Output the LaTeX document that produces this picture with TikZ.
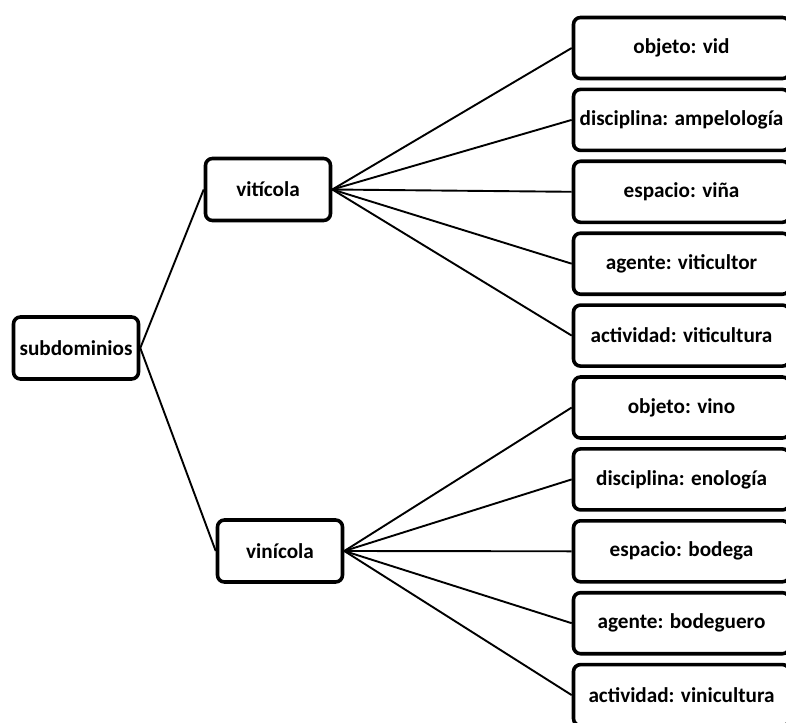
\documentclass[tikz,border=0pt]{standalone}
\usepackage{fontspec}
\setmainfont{Carlito}[BoldFont={Carlito Bold}]
\usetikzlibrary{positioning}

\begin{document}
\begin{tikzpicture}[x=1pt,y=-1pt,
    box/.style={draw,line width=3.6pt,rounded corners=7pt,inner sep=0pt,
      font=\fontsize{21.2}{25}\selectfont\bfseries},
    small/.style={box,minimum width=125pt,minimum height=62pt},
    wide/.style={box,minimum width=216pt,minimum height=61pt},
    link/.style={line width=1.9pt}]
    \useasboundingbox (0,0) rectangle (786,722);
    \clip (0,0) rectangle (786,722);

    % root and the two branches
    \node[small] (sub) at (76,348) {subdominios};
    \node[small] (viti) at (268,189.5) {vitícola};
    \node[small] (vini) at (280,551) {vinícola};

    % vitícola leaves
    \node[wide] (vitobj) at (681.5,48) {objeto: vid};
    \node[wide] (vitdis) at (681.5,119.9) {disciplina: ampelología};
    \node[wide] (vitesp) at (681.5,191.8) {espacio: viña};
    \node[wide] (vitage) at (681.5,263.7) {agente: viticultor};
    \node[wide] (vitact) at (681.5,335.6) {actividad: viticultura};

    % vinícola leaves
    \node[wide] (vinobj) at (681.5,407.5) {objeto: vino};
    \node[wide] (vindis) at (681.5,479.4) {disciplina: enología};
    \node[wide] (vinesp) at (681.5,551.3) {espacio: bodega};
    \node[wide] (vinage) at (681.5,623.2) {agente: bodeguero};
    \node[wide] (vinact) at (681.5,695.1) {actividad: vinicultura};

    % connectors
    \draw[link] (sub.east) -- (viti.west);
    \draw[link] (sub.east) -- (vini.west);

    \draw[link] (viti.east) -- (vitobj.west);
    \draw[link] (viti.east) -- (vitdis.west);
    \draw[link] (viti.east) -- (vitesp.west);
    \draw[link] (viti.east) -- (vitage.west);
    \draw[link] (viti.east) -- (vitact.west);

    \draw[link] (vini.east) -- (vinobj.west);
    \draw[link] (vini.east) -- (vindis.west);
    \draw[link] (vini.east) -- (vinesp.west);
    \draw[link] (vini.east) -- (vinage.west);
    \draw[link] (vini.east) -- (vinact.west);
\end{tikzpicture}
\end{document}
